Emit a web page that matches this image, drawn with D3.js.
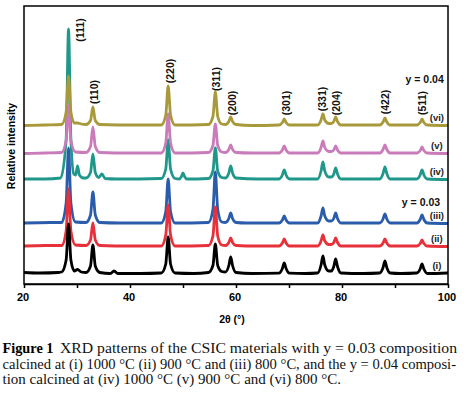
<!DOCTYPE html>
<html>
<head>
<meta charset="utf-8">
<script src="https://cdn.jsdelivr.net/npm/d3@7/dist/d3.min.js"></script>
<style>
  html, body { margin: 0; padding: 0; background: #fff; }
  svg { display: block; }
</style>
</head>
<body>
<svg id="chart" width="466" height="395"></svg>
<script>
// ---------------- DATA ----------------
const xTicks = [20, 40, 60, 80, 100];
const xMinorTicks = [30, 50, 70, 90];
const seriesNames = ["(i)", "(ii)", "(iii)", "(iv)", "(v)", "(vi)"];
const seriesOffsets = [10, 37, 60, 104, 130, 158];   // vertical stacking offset (intensity units)
const groupLabels = ["y = 0.03", "y = 0.04"];
const peakLabels = ["(111)", "(110)", "(220)", "(311)", "(200)", "(301)", "(331)", "(204)", "(422)", "(511)"];
const peakLabelTheta = [30.6, 33.2, 47.5, 56.2, 59.2, 69.4, 76.2, 78.9, 88.1, 95.1];

// pattern (i)
const pattern1 = [[20,1.5],[23,1],[26.5,1.5],[27.1,2],[27.95,14],[28.4,50],[28.85,14],[29.5,3],[30.1,4.5],[30.8,2],[31.7,1.5],[32.55,8],[33.0,29],[33.45,8],[34.3,1.5],[36.3,0.5],[37,3],[37.7,0.5],[42,0.5],[45.9,1],[46.75,10],[47.2,37],[47.65,10],[48.5,1],[52,0.5],[54.8,1.5],[55.65,8.5],[56.1,30],[56.55,8.5],[57.3,2.5],[58.0,2],[58.65,8.5],[59.0,17],[59.35,8.5],[60.0,1.5],[63,0.5],[68.1,0.8],[68.75,5.5],[69.1,11],[69.45,5.5],[70.1,0.8],[73,0.5],[75.4,1],[76.05,9],[76.4,18],[76.75,9],[77.5,3],[78.0,3],[78.45,7.5],[78.8,15],[79.15,7.5],[79.8,1],[84,0.5],[87.1,1],[87.75,6.5],[88.1,13],[88.45,6.5],[89.1,1],[91,0.5],[94.1,1],[94.75,5],[95.1,10],[95.45,5],[96.1,0.5],[100,1]];
// pattern (ii)
const pattern2 = [[20,1],[24,1.5],[27.1,1.5],[27.95,16],[28.4,58],[28.85,16],[29.7,2],[31.7,1.5],[32.55,7],[33.0,24],[33.45,7],[34.3,1.5],[40,1],[45.9,1],[46.75,12],[47.2,42],[47.65,12],[48.5,1],[54.8,1.5],[55.65,11],[56.1,40],[56.55,11],[57.3,2],[58.0,1.5],[58.65,4.5],[59.0,9],[59.35,4.5],[60.0,1.5],[64,1],[68.1,1],[68.75,4],[69.1,8],[69.45,4],[70.1,1],[75.4,1],[76.05,6],[76.4,12],[76.75,6],[77.5,2.5],[78.0,2.5],[78.45,4.5],[78.8,9],[79.15,4.5],[79.8,1],[87.1,1],[87.75,4],[88.1,8],[88.45,4],[89.1,1],[94.1,1],[94.75,3.5],[95.1,7],[95.45,3.5],[96.1,1],[100,0.5]];
// pattern (iii)
const pattern3 = [[20,1],[25,1.5],[27.1,1.5],[27.95,21],[28.4,76],[28.85,21],[29.7,2],[31.7,1.5],[32.55,9],[33.0,32],[33.45,9],[34.3,1.5],[38,1],[45.9,1],[46.75,12.5],[47.2,45],[47.65,12.5],[48.5,1],[54.8,1.5],[55.65,14.5],[56.1,52],[56.55,14.5],[57.3,2],[58.0,1.5],[58.65,5.5],[59.0,11],[59.35,5.5],[60.0,1.5],[62,1],[68.1,1],[68.75,4],[69.1,8],[69.45,4],[70.1,1],[75.4,1],[76.05,8],[76.4,16],[76.75,8],[77.5,3],[78.0,3],[78.45,5.5],[78.8,11],[79.15,5.5],[79.8,1],[87.1,1],[87.75,5],[88.1,10],[88.45,5],[89.1,1],[94.1,1],[94.75,4.5],[95.1,9],[95.45,4.5],[96.1,1],[100,0.5]];
// pattern (iv)
const pattern4 = [[20,1],[24,1],[26.9,2],[27.95,40],[28.4,151],[28.85,40],[29.4,6],[29.75,5],[30.1,14],[30.45,5],[31.2,2],[31.7,2],[32.55,7.5],[33.0,26],[33.45,7.5],[34.1,2.5],[34.7,6],[35.3,1.5],[37.5,1],[45.9,1.5],[46.75,11],[47.2,40],[47.65,11],[48.5,1.5],[49.3,1],[49.7,3.5],[50.0,7],[50.3,3.5],[50.7,1],[54.8,1.5],[55.65,9],[56.1,32],[56.55,9],[57.3,2.5],[58.0,2],[58.65,7],[59.0,14],[59.35,7],[60.0,2],[64,1],[68.1,1],[68.75,5],[69.1,10],[69.45,5],[70.1,1],[75.4,1],[76.05,9],[76.4,18],[76.75,9],[77.5,3],[78.0,3],[78.45,6],[78.8,12],[79.15,6],[79.8,1],[87.1,1],[87.75,6.5],[88.1,13],[88.45,6.5],[89.1,1],[94.1,1],[94.75,5],[95.1,10],[95.45,5],[96.1,1],[100,0.5]];
// pattern (v)
const pattern5 = [[20,0.5],[24,1],[27.1,1.5],[27.95,13.5],[28.4,48],[28.85,13.5],[29.7,2],[31.7,1.5],[32.55,7.5],[33.0,27],[33.45,7.5],[34.3,1.5],[40,1],[45.9,1],[46.75,11],[47.2,40],[47.65,11],[48.5,1],[54.8,1.5],[55.65,8.5],[56.1,30],[56.55,8.5],[57.3,2],[58.0,1.5],[58.65,4.5],[59.0,9],[59.35,4.5],[60.0,1.5],[63,1],[68.1,1],[68.75,4],[69.1,8],[69.45,4],[70.1,1],[75.4,1],[76.05,6.5],[76.4,13],[76.75,6.5],[77.5,2.5],[78.0,2.5],[78.45,4],[78.8,8],[79.15,4],[79.8,1],[87.1,1],[87.75,4.5],[88.1,9],[88.45,4.5],[89.1,1],[94.1,1],[94.75,3.5],[95.1,7],[95.45,3.5],[96.1,1],[100,0.5]];
// pattern (vi)
const pattern6 = [[20,0.5],[24,1],[27.1,1.5],[27.95,14],[28.4,50],[28.85,14],[29.5,3],[30.1,3],[30.8,2],[31.7,1.5],[32.55,5.5],[33.0,19],[33.45,5.5],[34.3,1.5],[41,1],[45.9,1],[46.75,11],[47.2,40],[47.65,11],[48.5,1],[54.8,1.5],[55.65,9.5],[56.1,34],[56.55,9.5],[57.3,2],[58.0,1.5],[58.65,4.5],[59.0,9],[59.35,4.5],[60.0,1.5],[63,0.5],[68.1,1],[68.75,3.5],[69.1,7],[69.45,3.5],[70.1,1],[75.4,1],[76.05,6],[76.4,12],[76.75,6],[77.5,2.5],[78.0,2.5],[78.45,4.5],[78.8,9],[79.15,4.5],[79.8,1],[87.1,1],[87.75,4],[88.1,8],[88.45,4],[89.1,1],[94.1,1],[94.75,3.5],[95.1,7],[95.45,3.5],[96.1,1],[100,0.5]];

const patterns = [pattern1, pattern2, pattern3, pattern4, pattern5, pattern6];

const captionLines = [
  "XRD patterns of the CSIC materials with y = 0.03 composition",
  "calcined at (i) 1000 °C (ii) 900 °C and (iii) 800 °C, and the y = 0.04 composi-",
  "tion calcined at (iv) 1000 °C (v) 900 °C and (vi) 800 °C."
];

// ---------------- STYLE / LAYOUT ----------------
const colors = ["#000000", "#e8303a", "#2a5cab", "#1f978a", "#c97bba", "#a89a3b"];
const drawOrder = [3, 4, 5, 2, 1, 0];
const sans = "'Liberation Sans', Arial, sans-serif";
const serif = "'Liberation Serif', 'Times New Roman', serif";
const peakLabelY = [254, 192, 213, 205, 181, 181, 185, 181, 182, 181];

const svg = d3.select("#chart");
const x = d3.scaleLinear().domain([20, 100]).range([24, 448]);
const y = d3.scaleLinear().domain([0, 278]).range([284, 6]);

svg.append("defs").append("clipPath").attr("id", "plotclip")
  .append("rect").attr("x", x(20)).attr("y", y(278)).attr("width", x(100) - x(20)).attr("height", y(0) - y(278));

// patterns
const gLines = svg.append("g").attr("clip-path", "url(#plotclip)");
drawOrder.forEach(i => {
  const off = seriesOffsets[i];
  const line = d3.line().x(d => x(d[0])).y(d => y(d[1] + off)).curve(d3.curveMonotoneX);
  gLines.append("path")
    .attr("d", line(patterns[i]))
    .attr("fill", "none")
    .attr("stroke", colors[i])
    .attr("stroke-width", 2.8)
    .attr("stroke-linejoin", "round")
    .attr("stroke-linecap", "round");
});

// frame
svg.append("rect")
  .attr("x", x(20)).attr("y", y(278))
  .attr("width", x(100) - x(20)).attr("height", y(0) - y(278))
  .attr("fill", "none").attr("stroke", "#000").attr("stroke-width", 1.5);

// x axis
const gx = svg.append("g").attr("transform", `translate(0,${y(0)})`)
  .call(d3.axisBottom(x).tickValues(xTicks).tickSize(4).tickSizeOuter(0).tickFormat(d3.format("d")));
gx.select(".domain").attr("stroke-width", 1.5);
gx.selectAll(".tick line").attr("stroke-width", 1.5);
gx.selectAll(".tick text")
  .attr("font-family", sans).attr("font-weight", "bold").attr("font-size", 11)
  .attr("fill", "#000").attr("dx", -1.5).attr("dy", "0.95em");
const gxm = svg.append("g").attr("transform", `translate(0,${y(0)})`)
  .call(d3.axisBottom(x).tickValues(xMinorTicks).tickSize(4).tickSizeOuter(0).tickFormat(""));
gxm.select(".domain").remove();
gxm.selectAll(".tick line").attr("stroke-width", 1.5);

// axis titles
svg.append("text")
  .attr("x", 232).attr("y", 323)
  .attr("text-anchor", "middle")
  .attr("font-family", sans).attr("font-weight", "bold").attr("font-size", 10.5)
  .text("2θ (°)");
svg.append("text")
  .attr("transform", "translate(14.5,146) rotate(-90)")
  .attr("text-anchor", "middle")
  .attr("font-family", sans).attr("font-weight", "bold").attr("font-size", 10.5)
  .text("Relative intensity");

// peak labels
peakLabels.forEach((t, i) => {
  svg.append("text")
    .attr("transform", `translate(${x(peakLabelTheta[i])},${y(peakLabelY[i])}) rotate(-90)`)
    .attr("text-anchor", "middle")
    .attr("dominant-baseline", "central")
    .attr("font-family", sans).attr("font-weight", "bold").attr("font-size", 10.5)
    .attr("fill", "#111")
    .text(t);
});

// series labels
seriesNames.forEach((t, i) => {
  svg.append("text")
    .attr("x", x(97.9)).attr("y", y(seriesOffsets[i] + 9))
    .attr("text-anchor", "middle")
    .attr("dominant-baseline", "central")
    .attr("font-family", sans).attr("font-weight", "bold").attr("font-size", 9.5)
    .attr("fill", "#222")
    .text(t);
});
// group labels
[[groupLabels[0], 94.9, 82], [groupLabels[1], 95.6, 205]].forEach(d => {
  svg.append("text")
    .attr("x", x(d[1])).attr("y", y(d[2]))
    .attr("text-anchor", "middle")
    .attr("dominant-baseline", "central")
    .attr("font-family", sans).attr("font-weight", "bold").attr("font-size", 10.5)
    .attr("fill", "#111")
    .text(d[0]);
});

// caption
svg.append("text")
  .attr("x", 2.5).attr("y", 353)
  .attr("font-family", serif).attr("font-weight", "bold").attr("font-size", 14.5)
  .attr("textLength", 51).attr("lengthAdjust", "spacingAndGlyphs")
  .text("Figure 1");
const capX = [60, 2.5, 2.5];
const capY = [353, 368.5, 384];
const capW = [397, 453.5, 338.5];
captionLines.forEach((t, i) => {
  svg.append("text")
    .attr("x", capX[i]).attr("y", capY[i])
    .attr("font-family", serif).attr("font-size", 14.5)
    .attr("textLength", capW[i]).attr("lengthAdjust", "spacingAndGlyphs")
    .attr("fill", "#111")
    .text(t);
});
</script>
</body>
</html>
